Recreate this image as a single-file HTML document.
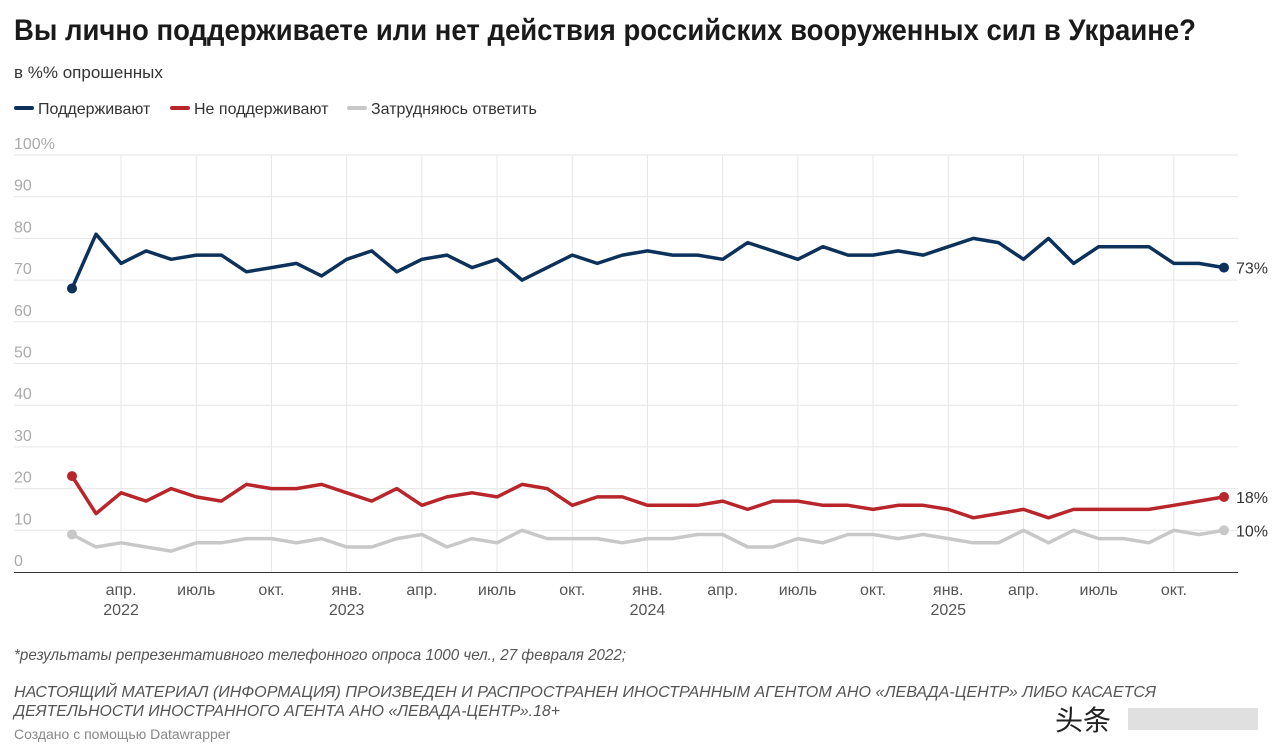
<!DOCTYPE html>
<html><head><meta charset="utf-8">
<style>
body{margin:0;background:#fff;width:1280px;height:756px;overflow:hidden;font-family:"Liberation Sans","Noto Sans CJK SC",sans-serif;}
svg{display:block}
</style></head>
<body>
<svg id="chart" width="1280" height="756" xmlns="http://www.w3.org/2000/svg" font-family="Liberation Sans, Noto Sans CJK SC, sans-serif">
<text x="14" y="40" font-size="30" font-weight="bold" fill="#1a1a1a" textLength="1182" lengthAdjust="spacingAndGlyphs">Вы лично поддерживаете или нет действия российских вооруженных сил в Украине?</text>
<text x="14" y="78" font-size="17" fill="#333">в %% опрошенных</text>
<g font-size="16" fill="#333">
<g><rect x="14" y="106" width="20" height="4" rx="2" fill="#0c325c"/><text x="38" y="114">Поддерживают</text></g>
<g><rect x="170" y="106" width="20" height="4" rx="2" fill="#b8262b"/><text x="194" y="114">Не поддерживают</text></g>
<g><rect x="347" y="106" width="20" height="4" rx="2" fill="#c8c8c8"/><text x="371" y="114">Затрудняюсь ответить</text></g>
</g>
<g id="grid"></g>
<g id="axes"></g>
<g id="series"></g>
<text x="14" y="660" font-size="16" font-style="italic" fill="#555" textLength="612" lengthAdjust="spacingAndGlyphs">*результаты репрезентативного телефонного опроса 1000 чел., 27 февраля 2022;</text>
<text x="14" y="697" font-size="16" font-style="italic" fill="#555" textLength="1142" lengthAdjust="spacingAndGlyphs">НАСТОЯЩИЙ МАТЕРИАЛ (ИНФОРМАЦИЯ) ПРОИЗВЕДЕН И РАСПРОСТРАНЕН ИНОСТРАННЫМ АГЕНТОМ АНО «ЛЕВАДА-ЦЕНТР» ЛИБО КАСАЕТСЯ</text>
<text x="14" y="716" font-size="16" font-style="italic" fill="#555" textLength="546" lengthAdjust="spacingAndGlyphs">ДЕЯТЕЛЬНОСТИ ИНОСТРАННОГО АГЕНТА АНО «ЛЕВАДА-ЦЕНТР».18+</text>
<text x="14" y="739" font-size="14" fill="#888">Создано с помощью Datawrapper</text>
<g><text x="1055" y="730" font-size="28" fill="#222">头条</text><rect x="1128" y="708" width="130" height="22" fill="#ccc" opacity="0.6"/></g>
</svg>
<script>
const months = ["фев. 2022","мар.","апр.","май","июнь","июль","авг.","сент.","окт.","нояб.","дек.","янв. 2023","фев.","мар.","апр.","май","июнь","июль","авг.","сент.","окт.","нояб.","дек.","янв. 2024","фев.","мар.","апр.","май","июнь","июль","авг.","сент.","окт.","нояб.","дек.","янв. 2025","фев.","мар.","апр.","май","июнь","июль","авг.","сент.","окт.","нояб.","дек."];
const support = [68,81,74,77,75,76,76,72,73,74,71,75,77,72,75,76,73,75,70,73,76,74,76,77, 76,76,75,79,77,75,78,76,76,77,76,78,80,79,75,80,74,78,78,78,74,74,73];
const oppose = [23,14,19,17,20,18,17,21,20,20,21,19,17,20,16,18,19,18,21,20,16,18,18,16, 16,16,17,15,17,17,16,16,15,16,16,15,13,14,15,13,15,15,15,15,16,17,18];
const undecided = [9,6,7,6,5,7,7,8,8,7,8,6,6,8,9,6,8,7,10,8,8,8,7,8, 8,9,9,6,6,8,7,9,9,8,9,8,7,7,10,7,10,8,8,7,10,9,10];
const yTicks = [0,10,20,30,40,50,60,70,80,90,100];
const xTickIdx = [2,5,8,11,14,17,20,23,26,29,32,35,38,41,44];
const xTickLabels = ["апр.","июль","окт.","янв.","апр.","июль","окт.","янв.","апр.","июль","окт.","янв.","апр.","июль","окт."];
const xTickYears = ["2022","","","2023","","","","2024","","","","2025","","",""];
const endLabels = ["73%","18%","10%"];

const NS="http://www.w3.org/2000/svg";
const n = months.length;
const x = i => i===0 ? 72 : 96 + (i-1)*(1224-96)/(n-2);
const y = v => 572 - v*4.17;
function mk(tag, attrs, parent, txt){const e=document.createElementNS(NS,tag);for(const k in attrs)e.setAttribute(k,attrs[k]);if(txt!==undefined)e.textContent=txt;parent.appendChild(e);return e;}
const grid=document.getElementById('grid'), axes=document.getElementById('axes'), ser=document.getElementById('series');
yTicks.forEach(t=>{
  if(t>0){const l=mk('line',{x1:14,x2:1238,y1:y(t),y2:y(t),stroke:'#e6e6e6','stroke-width':1},grid);
  
  }
  const tx=mk('text',{x:14,y:y(t)-6,'font-size':16,fill:'#aaa'},axes,t===100?'100%':String(t));
  
  
});
const base=mk('line',{x1:14,x2:1238,y1:572.5,y2:572.5,stroke:'#333','stroke-width':1},axes);


xTickIdx.forEach((idx,k)=>{
  const l=mk('line',{x1:x(idx),x2:x(idx),y1:155,y2:572,stroke:'#e6e6e6','stroke-width':1},grid);
  
  
  const t=mk('text',{x:x(idx),y:595,'font-size':16,fill:'#555','text-anchor':'middle'},axes,xTickLabels[k]);
  
  
  if(xTickYears[k]){const yt=mk('text',{x:x(idx),y:615,'font-size':16,fill:'#555','text-anchor':'middle'},axes,xTickYears[k]);
  
  }
});
const defs=[[undecided,'#c8c8c8','undecided'],[oppose,'#b8262b','oppose'],[support,'#0c325c','support']];
const lblMap={support:0,oppose:1,undecided:2};
defs.forEach(([d,c,name])=>{
  const m=d.length;
  const pts=[];for(let i=0;i<m;i++)pts.push(x(i).toFixed(1)+','+y(d[i]).toFixed(1));
  const p=mk('polyline',{points:pts.join(' '),fill:'none',stroke:c,'stroke-width':3.5,'stroke-linejoin':'round'},ser);
  
  
  const c1=mk('circle',{cx:x(0),cy:y(d[0]),r:5,fill:c},ser);
  
  
  const c2=mk('circle',{cx:x(m-1),cy:y(d[m-1]),r:5,fill:c},ser);
  
  
  const t=mk('text',{x:x(m-1)+12,y:y(d[m-1])+6,'font-size':16,fill:'#333'},ser,endLabels[lblMap[name]]);
  
  
});
</script>
</body></html>
